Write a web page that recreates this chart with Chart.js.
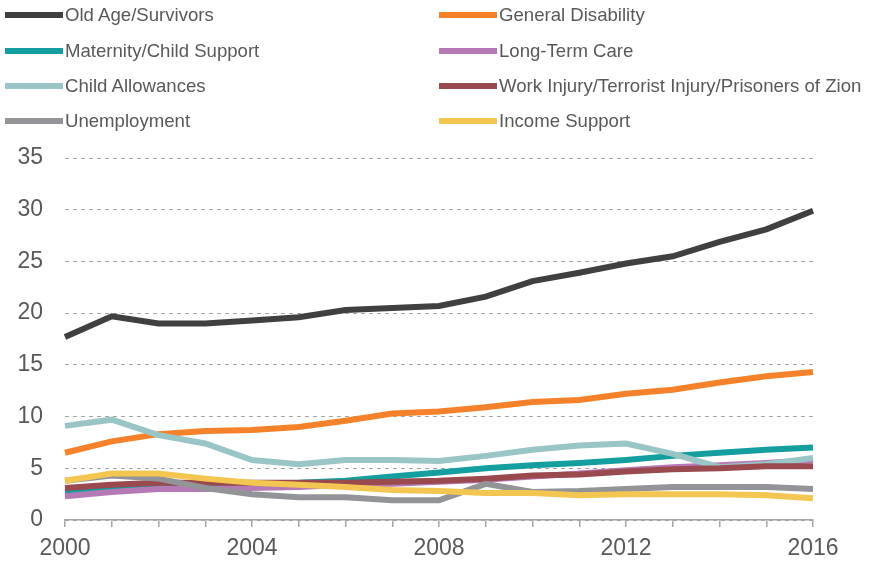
<!DOCTYPE html>
<html>
<head>
<meta charset="utf-8">
<script src="https://cdn.jsdelivr.net/npm/chart.js@4"></script>
<style>
  body { margin: 0; background: #fff; font-family: "Liberation Sans", Arial, sans-serif; }
  #wrap { position: relative; width: 872px; height: 561px; }
  #chart { position: absolute; left: 0; top: 0; }
  .leg { position: absolute; display: flex; align-items: center; font-size: 18.6px; color: #595959; white-space: nowrap; }
  .leg span.sw { display: inline-block; width: 58px; height: 6px; margin-right: 2px; }
</style>
</head>
<body>
<div id="wrap">
  <canvas id="chart" width="872" height="561"></canvas>
  <div id="legend"></div>
</div>
<script>
// data
const years = ['2000','2001','2002','2003','2004','2005','2006','2007','2008','2009','2010','2011','2012','2013','2014','2015','2016'];

const oldAge       = [17.7, 19.7, 19.0, 19.0, 19.3, 19.6, 20.3, 20.5, 20.7, 21.6, 23.1, 23.9, 24.8, 25.5, 26.9, 28.1, 29.9];
const disability   = [6.5, 7.6, 8.3, 8.6, 8.7, 9.0, 9.6, 10.3, 10.5, 10.9, 11.4, 11.6, 12.2, 12.6, 13.3, 13.9, 14.3];
const maternity    = [2.7, 3.1, 3.3, 3.4, 3.5, 3.6, 3.8, 4.2, 4.6, 5.0, 5.3, 5.5, 5.8, 6.2, 6.5, 6.8, 7.0];
const longTermCare = [2.3, 2.7, 3.0, 3.0, 3.1, 3.2, 3.4, 3.5, 3.7, 3.9, 4.2, 4.5, 4.8, 5.1, 5.3, 5.5, 5.8];
const childAllow   = [9.1, 9.7, 8.2, 7.4, 5.8, 5.4, 5.8, 5.8, 5.7, 6.2, 6.8, 7.2, 7.4, 6.4, 5.1, 5.4, 6.0];
const workInjury   = [3.1, 3.4, 3.6, 3.6, 3.6, 3.6, 3.6, 3.7, 3.8, 4.0, 4.3, 4.4, 4.7, 4.9, 5.0, 5.2, 5.2];
const unemployment = [3.8, 4.3, 4.0, 3.1, 2.5, 2.2, 2.2, 1.9, 1.9, 3.5, 2.7, 2.8, 3.0, 3.2, 3.2, 3.2, 3.0];
const incomeSupp   = [3.8, 4.5, 4.5, 4.0, 3.6, 3.4, 3.2, 2.9, 2.8, 2.6, 2.6, 2.4, 2.5, 2.5, 2.5, 2.4, 2.1];

const seriesNames = ['Old Age/Survivors', 'General Disability', 'Maternity/Child Support', 'Long-Term Care',
  'Child Allowances', 'Work Injury/Terrorist Injury/Prisoners of Zion', 'Unemployment', 'Income Support'];
const seriesData = [oldAge, disability, maternity, longTermCare, childAllow, workInjury, unemployment, incomeSupp];
const seriesColors = ['#404040', '#f5822a', '#159e9e', '#b57ab5', '#9ac5c6', '#9a4a4f', '#939497', '#f3c651'];

// html legend, two columns like the original
const legend = document.getElementById('legend');
const rowY = [15, 51, 86, 121];
seriesNames.forEach(function(name, i) {
  const d = document.createElement('div');
  d.className = 'leg';
  d.style.left = (i % 2 === 0 ? 5 : 439) + 'px';
  d.style.top = (rowY[Math.floor(i / 2)] - 11) + 'px';
  d.style.height = '22px';
  d.innerHTML = '<span class="sw" style="background:' + seriesColors[i] + '"></span>' + name;
  legend.appendChild(d);
});

const datasets = seriesData.map(function(vals, i) {
  return {
    label: seriesNames[i],
    data: vals,
    borderColor: seriesColors[i],
    backgroundColor: seriesColors[i],
    borderWidth: 6,
    pointRadius: 0,
    tension: 0,
    fill: false,
    order: seriesData.length - i // later series sit on top, as in Excel
  };
});

new Chart(document.getElementById('chart'), {
  type: 'line',
  data: { labels: years, datasets: datasets },
  options: {
    responsive: false,
    animation: false,
    layout: { padding: { top: 158, right: 59, left: 0, bottom: 0 } },
    plugins: { legend: { display: false }, tooltip: { enabled: false } },
    scales: {
      x: {
        offset: false,
        afterFit: function(s) { s.height = 41; },
        grid: { drawOnChartArea: false, color: '#a6a6a6', tickLength: 7, lineWidth: 1.5 },
        border: { display: true, color: '#a6a6a6', width: 1.5 },
        ticks: {
          autoSkip: false, maxRotation: 0, padding: 8,
          color: '#595959', font: { family: 'Liberation Sans', size: 23 },
          callback: function(v, idx) { return idx % 4 === 0 ? years[idx] : ''; }
        }
      },
      y: {
        min: 0, max: 35,
        afterFit: function(s) { s.width = 65; },
        grid: { drawTicks: false, color: '#a6a6a6', lineWidth: 1 },
        border: { display: false, dash: [4, 4] },
        ticks: {
          stepSize: 5, padding: 22,
          color: '#595959', font: { family: 'Liberation Sans', size: 23 }
        }
      }
    }
  }
});
</script>
</body>
</html>
